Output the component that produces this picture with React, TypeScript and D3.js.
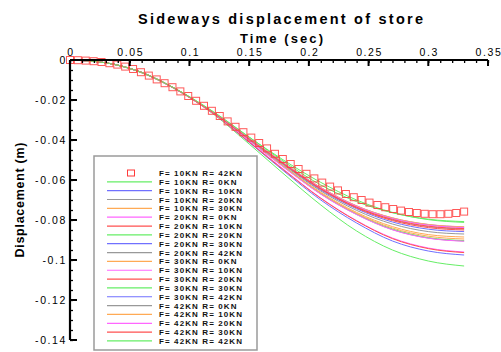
import React, { useRef, useEffect } from "react";
import * as d3 from "d3";

// square-marker series (F=10KN R=42KN), one value per marker
const markerTimes = d3.range(51).map((i) => i * 0.0066);
const markerValues = [
  0, -0.0001, -0.0003, -0.0006, -0.001, -0.0016, -0.0023, -0.0033, -0.0045, -0.0061,
  -0.0078, -0.0097, -0.0116, -0.0136, -0.0157, -0.018, -0.0204, -0.0229, -0.0254, -0.028,
  -0.0307, -0.0334, -0.0361, -0.0388, -0.0415, -0.0442, -0.0469, -0.0495, -0.052, -0.0545,
  -0.0569, -0.0592, -0.0613, -0.0633, -0.0652, -0.067, -0.0686, -0.07, -0.0713, -0.0725,
  -0.0736, -0.0745, -0.0753, -0.076, -0.0765, -0.0769, -0.0771, -0.0771, -0.0769, -0.0765,
  -0.0758,
];

// line series, sampled at these times (sec)
const lineTimes = [0, 0.03, 0.06, 0.09, 0.12, 0.15, 0.18, 0.21, 0.24, 0.27, 0.3, 0.33];

const lineLabels = [
  "F= 10KN R= 0KN", "F= 10KN R= 10KN", "F= 10KN R= 20KN", "F= 10KN R= 30KN",
  "F= 20KN R= 0KN", "F= 20KN R= 10KN", "F= 20KN R= 20KN", "F= 20KN R= 30KN", "F= 20KN R= 42KN",
  "F= 30KN R= 0KN", "F= 30KN R= 10KN", "F= 30KN R= 20KN", "F= 30KN R= 30KN", "F= 30KN R= 42KN",
  "F= 42KN R= 0KN", "F= 42KN R= 10KN", "F= 42KN R= 20KN", "F= 42KN R= 30KN", "F= 42KN R= 42KN",
];

const lineColors = [
  "#66ee66", "#7070ff", "#999999", "#ffaa55",
  "#ff66ff", "#ff5050", "#66ee66", "#7070ff", "#999999",
  "#ffaa55", "#ff66ff", "#ff5050", "#66ee66", "#7070ff",
  "#999999", "#ffaa55", "#ff66ff", "#ff5050", "#66ee66",
];

const lineValues = [
  [0, -0.0014, -0.0064, -0.0152, -0.027, -0.042, -0.0575, -0.0725, -0.0855, -0.095, -0.1005, -0.103],
  [0, -0.0014, -0.0063, -0.0151, -0.0268, -0.0412, -0.056, -0.07, -0.0815, -0.0905, -0.0955, -0.0975],
  [0, -0.0014, -0.0063, -0.0151, -0.0266, -0.0402, -0.054, -0.067, -0.0772, -0.0848, -0.089, -0.0905],
  [0, -0.0014, -0.0063, -0.015, -0.0265, -0.04, -0.0535, -0.0662, -0.0762, -0.0833, -0.0873, -0.0885],
  [0, -0.0014, -0.0063, -0.0151, -0.0268, -0.0408, -0.0552, -0.069, -0.0803, -0.089, -0.094, -0.096],
  [0, -0.0014, -0.0063, -0.0151, -0.0268, -0.041, -0.0555, -0.0692, -0.0805, -0.0893, -0.0943, -0.0963],
  [0, -0.0014, -0.0063, -0.015, -0.0266, -0.0401, -0.0538, -0.0668, -0.077, -0.0845, -0.0888, -0.0903],
  [0, -0.0014, -0.0062, -0.015, -0.0264, -0.0396, -0.0527, -0.065, -0.0744, -0.081, -0.0846, -0.0858],
  [0, -0.0014, -0.0062, -0.015, -0.0263, -0.0394, -0.0523, -0.0644, -0.0737, -0.0799, -0.0833, -0.0845],
  [0, -0.0014, -0.0063, -0.015, -0.0266, -0.0401, -0.0537, -0.0666, -0.0767, -0.084, -0.0881, -0.0895],
  [0, -0.0014, -0.0063, -0.0151, -0.0266, -0.0403, -0.0541, -0.0671, -0.0773, -0.0849, -0.0891, -0.0906],
  [0, -0.0014, -0.0062, -0.015, -0.0264, -0.0395, -0.0525, -0.0646, -0.074, -0.0803, -0.0838, -0.085],
  [0, -0.0014, -0.0062, -0.0149, -0.026, -0.0386, -0.0505, -0.0612, -0.07, -0.0762, -0.0798, -0.0812],
  [0, -0.0014, -0.0062, -0.015, -0.0263, -0.0392, -0.052, -0.0638, -0.073, -0.079, -0.0823, -0.0835],
  [0, -0.0014, -0.0062, -0.015, -0.0265, -0.0398, -0.053, -0.0655, -0.0752, -0.082, -0.0858, -0.087],
  [0, -0.0014, -0.0062, -0.015, -0.0263, -0.0392, -0.0519, -0.0637, -0.0729, -0.0789, -0.0822, -0.0834],
  [0, -0.0014, -0.0062, -0.015, -0.0263, -0.0393, -0.0521, -0.064, -0.0732, -0.0793, -0.0826, -0.0838],
  [0, -0.0014, -0.0062, -0.015, -0.0264, -0.0394, -0.0523, -0.0643, -0.0736, -0.0797, -0.0831, -0.0843],
  [0, -0.0014, -0.0062, -0.0149, -0.0258, -0.0385, -0.0512, -0.0625, -0.0708, -0.0764, -0.0796, -0.0808],
];

const markerLabel = "F= 10KN R= 42KN";
const markerColor = "#ff3b3b";

const xTicks = [0, 0.05, 0.1, 0.15, 0.2, 0.25, 0.3, 0.35];
const yTicks = [0, -0.02, -0.04, -0.06, -0.08, -0.1, -0.12, -0.14];

const FONT = "'Liberation Sans', Arial, Helvetica, sans-serif";

const App = () => {
  const svgRef = useRef<SVGSVGElement>(null);

  useEffect(() => {
    const width = 501;
    const height = 352;
    const margin = { top: 60, right: 13, bottom: 12, left: 70 };

    const svg = d3.select(svgRef.current);
    svg.selectAll("*").remove();
    svg.attr("width", width).attr("height", height).style("background", "#fff");

    const x = d3.scaleLinear().domain([0, 0.35]).range([margin.left, width - margin.right]);
    const y = d3.scaleLinear().domain([0, -0.14]).range([margin.top, height - margin.bottom]);

    // title
    svg
      .append("text")
      .attr("x", 138)
      .attr("y", 24)
      .attr("textLength", 285)
      .attr("lengthAdjust", "spacing")
      .style("font-family", FONT)
      .style("font-size", "14.5px")
      .style("font-weight", "bold")
      .text("Sideways displacement of store");

    svg
      .append("text")
      .attr("x", 240)
      .attr("y", 43)
      .attr("textLength", 83)
      .attr("lengthAdjust", "spacing")
      .style("font-family", FONT)
      .style("font-size", "13px")
      .style("font-weight", "bold")
      .text("Time (sec)");

    svg
      .append("text")
      .attr("transform", `translate(24,${200}) rotate(-90)`)
      .attr("text-anchor", "middle")
      .attr("textLength", 115)
      .attr("lengthAdjust", "spacing")
      .style("font-family", FONT)
      .style("font-size", "12.5px")
      .style("font-weight", "bold")
      .text("Displacement (m)");

    // curves
    const line = d3
      .line<number>()
      .x((_, i) => x(lineTimes[i]))
      .y((d) => y(d))
      .curve(d3.curveMonotoneX);

    svg
      .append("g")
      .selectAll("path")
      .data(lineValues)
      .enter()
      .append("path")
      .attr("d", (d) => line(d))
      .attr("fill", "none")
      .attr("stroke", (_, i) => lineColors[i])
      .attr("stroke-width", 1);

    // square markers
    const ms = 7;
    svg
      .append("g")
      .selectAll("rect")
      .data(markerValues)
      .enter()
      .append("rect")
      .attr("x", (_, i) => x(markerTimes[i]) - ms / 2)
      .attr("y", (d) => y(d) - ms / 2)
      .attr("width", ms)
      .attr("height", ms)
      .attr("fill", "none")
      .attr("stroke", markerColor)
      .attr("stroke-opacity", 0.85)
      .attr("stroke-width", 1);

    // axes
    const xAxis = d3
      .axisBottom(x)
      .tickValues(d3.range(0, 0.3501, 0.01))
      .tickSize(3)
      .tickFormat(() => "");
    svg
      .append("g")
      .attr("transform", `translate(0,${margin.top})`)
      .call(xAxis)
      .call((g) => g.select(".domain").remove())
      .selectAll("line")
      .attr("stroke", "#000")
      .attr("stroke-width", 1.3);

    svg
      .append("g")
      .selectAll("line")
      .data(xTicks)
      .enter()
      .append("line")
      .attr("x1", (d) => x(d))
      .attr("x2", (d) => x(d))
      .attr("y1", margin.top)
      .attr("y2", margin.top + 6)
      .attr("stroke", "#000")
      .attr("stroke-width", 2);

    svg
      .append("g")
      .selectAll("text")
      .data(xTicks)
      .enter()
      .append("text")
      .attr("x", (d) => x(d) + 1)
      .attr("y", 56)
      .attr("text-anchor", "middle")
      .style("font-family", FONT)
      .style("font-size", "10.5px")
      .style("letter-spacing", "1.6px")
      .text((d) => String(d));

    const yAxis = d3
      .axisRight(y)
      .tickValues(d3.range(0, -0.1401, -0.005))
      .tickSize(3)
      .tickFormat(() => "");
    svg
      .append("g")
      .attr("transform", `translate(${margin.left},0)`)
      .call(yAxis)
      .call((g) => g.select(".domain").remove())
      .selectAll("line")
      .attr("stroke", "#000")
      .attr("stroke-width", 1.3);

    svg
      .append("g")
      .selectAll("line")
      .data(yTicks)
      .enter()
      .append("line")
      .attr("x1", margin.left)
      .attr("x2", margin.left + 7)
      .attr("y1", (d) => y(d))
      .attr("y2", (d) => y(d))
      .attr("stroke", "#000")
      .attr("stroke-width", 2);

    svg
      .append("g")
      .selectAll("text")
      .data(yTicks)
      .enter()
      .append("text")
      .attr("x", 67)
      .attr("y", (d) => y(d) + 4)
      .attr("text-anchor", "end")
      .style("font-family", FONT)
      .style("font-size", "10.5px")
      .style("letter-spacing", "1.6px")
      .text((d) => String(d));

    svg
      .append("line")
      .attr("x1", margin.left)
      .attr("x2", width - margin.right)
      .attr("y1", margin.top)
      .attr("y2", margin.top)
      .attr("stroke", "#000")
      .attr("stroke-width", 2.2);
    svg
      .append("line")
      .attr("x1", margin.left)
      .attr("x2", margin.left)
      .attr("y1", margin.top)
      .attr("y2", height - margin.bottom)
      .attr("stroke", "#000")
      .attr("stroke-width", 2.2);

    // legend
    const legend = svg.append("g");
    legend
      .append("rect")
      .attr("x", 94)
      .attr("y", 156)
      .attr("width", 163)
      .attr("height", 194)
      .attr("fill", "#fff")
      .attr("stroke", "#9a9a9a")
      .attr("stroke-width", 1.5);

    const rowY = (i: number) => 173 + i * 8.84;
    const textStyle = (sel: any) =>
      sel
        .attr("x", 159)
        .style("font-family", FONT)
        .style("font-size", "8px")
        .style("letter-spacing", "1.1px")
        .style("font-weight", "bold")
        .style("fill", "#111");

    legend
      .append("rect")
      .attr("x", 131 - 3.5)
      .attr("y", rowY(0) - 3)
      .attr("width", 7)
      .attr("height", 6)
      .attr("fill", "none")
      .attr("stroke", markerColor)
      .attr("stroke-width", 1);
    legend.append("text").attr("y", rowY(0) + 3).call(textStyle).text(markerLabel);

    const rows = legend
      .selectAll("g.row")
      .data(lineLabels)
      .enter()
      .append("g")
      .attr("class", "row");
    rows
      .append("line")
      .attr("x1", 107)
      .attr("x2", 152)
      .attr("y1", (_, i) => rowY(i + 1))
      .attr("y2", (_, i) => rowY(i + 1))
      .attr("stroke", (_, i) => lineColors[i])
      .attr("stroke-width", 1.2);
    rows
      .append("text")
      .attr("y", (_, i) => rowY(i + 1) + 3)
      .call(textStyle)
      .text((d) => d);
  }, []);

  return (
    <div style={{ position: "absolute", left: 0, top: 0 }}>
      <svg ref={svgRef} style={{ display: "block" }}></svg>
    </div>
  );
};

export default App;
